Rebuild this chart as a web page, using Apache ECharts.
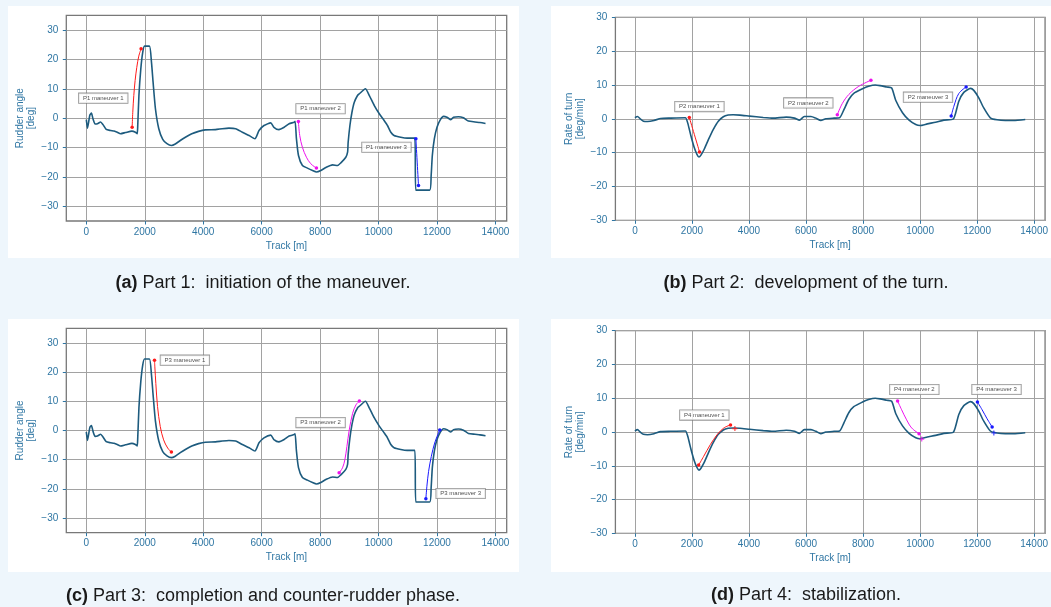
<!DOCTYPE html>
<html><head><meta charset="utf-8">
<script src="https://cdn.jsdelivr.net/npm/echarts@6/dist/echarts.min.js"></script>
<style>
html,body{margin:0;padding:0;background:#eef6fc;width:1051px;height:607px;overflow:hidden;}
.panel{position:absolute;background:#fff;}
#chart{position:absolute;left:0;top:0;width:1051px;height:607px;}
</style></head><body>
<div class="panel" style="left:8px;top:6px;width:511px;height:252px"></div>
<div class="panel" style="left:551px;top:6px;width:500px;height:252px"></div>
<div class="panel" style="left:8px;top:319px;width:511px;height:253px"></div>
<div class="panel" style="left:551px;top:319px;width:500px;height:253px"></div>
<div id="chart"></div>
<script>
// ---------- data ----------
const trackTicks = [0, 2000, 4000, 6000, 8000, 10000, 12000, 14000];
const angleTicks = [-30, -20, -10, 0, 10, 20, 30];

const rudderTrack = [0,40,120,175,230,300,380,490,570,680,830,950,1060,1170,1340,1560,1680,1740,1760,1800,1865,1930,1990,2160,2230,2285,2365,2480,2615,2760,2910,3045,3215,3390,3610,3840,4070,4420,4650,4880,5110,5340,5570,5770,5910,6080,6310,6420,6590,6770,6940,7110,7145,7190,7260,7395,7565,7740,7875,8025,8195,8425,8595,8710,8880,8940,8960,9020,9090,9170,9280,9345,9550,9685,9855,10025,10190,10305,10420,10530,10760,10980,11240,11275,11750,11800,11840,11910,12000,12115,12225,12340,12475,12565,12735,12905,13075,13300,13470,13660];
const rudderAngle = [-0.5,-3.4,1.0,1.7,-0.3,-2.0,-1.9,-1.3,-2.2,-3.8,-4.2,-4.4,-4.8,-5.3,-4.9,-4.4,-4.8,-5.3,-2.5,7.7,16.8,22.4,24.5,24.5,19.0,12.2,3.2,-3.6,-7.2,-8.7,-9.3,-8.8,-7.6,-6.5,-5.3,-4.5,-4.0,-3.9,-3.6,-3.4,-3.6,-4.8,-5.9,-7.0,-4.2,-2.5,-1.6,-3.1,-3.9,-3.1,-1.9,-1.4,-1.1,-7.0,-12.7,-16.1,-17.0,-17.8,-18.3,-17.8,-16.8,-15.9,-16.1,-15.2,-13.3,-11.6,-8.2,-2.5,2.0,5.4,7.7,8.3,10.0,7.7,4.3,1.5,-0.8,-2.5,-4.8,-5.9,-6.5,-6.8,-6.8,-24.5,-24.5,-19.5,-12.7,-7.0,-3.1,-0.5,0.6,0.3,-0.5,0.3,0.5,0.1,-1.0,-1.3,-1.5,-1.8];

const rotTrack = [0,90,185,300,440,670,900,1250,1770,1850,1965,2080,2175,2245,2310,2430,2580,2750,2925,3100,3270,3445,3680,4020,4500,4845,5305,5595,5770,5940,6175,6345,6520,6695,6985,7180,7330,7500,7675,7965,8195,8430,8600,8830,9005,9150,9385,9615,9850,10000,10255,10545,10835,11160,11245,11360,11535,11770,11885,12060,12235,12465,12700,12990,13280,13690];
const rateOfTurn = [0.3,0.7,0,-0.7,-0.8,-0.5,0.1,0.2,0.3,-1.2,-5.1,-8.5,-10.5,-11.3,-10.8,-9.0,-6.1,-3.1,-0.7,0.6,1.1,1.2,1.1,0.8,0.4,0.2,0.5,0.2,-0.4,0.7,0.7,0.2,-0.5,0.0,0.2,0.3,2.7,5.7,7.5,8.8,9.6,10.0,9.8,9.4,9.1,5.4,1.8,-0.4,-1.7,-2.0,-1.5,-1.0,-0.4,-0.1,1.6,5.2,7.8,9.0,8.4,6.2,3.2,0.3,-0.3,-0.5,-0.5,-0.2];

// maneuver arrows [track, value]
const p1m1 = [[1568,-3.1],[1590,2.0],[1625,7.7],[1670,12.8],[1727,17.3],[1795,21.1],[1874,23.6]];
const p1m2 = [[7257,-1.1],[7303,-5.9],[7394,-9.9],[7532,-13.3],[7680,-15.5],[7874,-17.0]];
const p1m3 = [[11277,-7.0],[11367,-22.9]];
const p2m1 = [[1907,0.4],[2266,-9.8]];
const p2m2 = [[7098,1.2],[7272,4.5],[7503,7.2],[7850,9.6],[8277,11.4]];
const p2m3 = [[11093,0.8],[11186,3.7],[11361,7.5],[11617,9.4]];
const p3m1 = [[2333,24.1],[2345,21.8],[2379,16.1],[2437,8.2],[2529,1.4],[2645,-3.2],[2784,-6.0],[2911,-7.4]];
const p3m2 = [[8651,-14.5],[8766,-12.8],[8847,-10.0],[8917,-5.5],[8997,0.2],[9113,5.9],[9228,8.8],[9344,10.1]];
const p3m3 = [[11619,-23.4],[11654,-19.1],[11712,-14.0],[11805,-8.9],[11920,-4.3],[12093,0.2]];
const p4m1 = [[2235,-9.8],[2412,-7.2],[2647,-3.7],[2882,-0.8],[3118,1.2],[3353,2.1]];
const p4m2 = [[9212,9.2],[9353,6.6],[9529,3.6],[9706,1.2],[9965,-0.5]];
const p4m3 = [[12012,8.9],[12176,6.6],[12353,3.9],[12529,1.5]];
const p4marks = [[3506,1.0],[10059,-2.1],[12588,-0.3]];

// annotation boxes: name, track, value
const p1Labels = [['P1 maneuver 1',580,6.8],['P1 maneuver 2',8015,3.2],['P1 maneuver 3',10270,-9.9]];
const p2Labels = [['P2 maneuver 1',2262,3.6],['P2 maneuver 2',6081,4.7],['P2 maneuver 3',10279,6.4]];
const p3Labels = [['P3 maneuver 1',3373,24.1],['P3 maneuver 2',8016,2.7],['P3 maneuver 3',12809,-21.6]];
const p4Labels = [['P4 maneuver 1',2435,5.0],['P4 maneuver 2',9800,12.6],['P4 maneuver 3',12682,12.6]];

const captionTags = ['(a)', '(b)', '(c)', '(d)'];
const captionTexts = ['Part 1:  initiation of the maneuver.', 'Part 2:  development of the turn.',
                      'Part 3:  completion and counter-rudder phase.', 'Part 4:  stabilization.'];

// ---------- styling / layout ----------
const FONT = 'Liberation Sans, Arial, sans-serif';
const BLUE = '#2f76a3';
const LINE = '#1d5b7e';
const manColors = ['#ff1a1a', '#ee10ee', '#1a1aff'];

const panels = [
  {grid:{left:66.3, top:15.3, width:440.4, height:205.7}, x:rudderTrack, y:rudderAngle, ymin:-35, ymax:35, split:7,
   name:'Rudder angle\n[deg]', mans:[p1m1,p1m2,p1m3], labels:p1Labels, marks:[], cap:[263,283]},
  {grid:{left:615.4, top:17.3, width:434.5, height:203}, x:rotTrack, y:rateOfTurn, ymin:-30, ymax:30, split:6,
   name:'Rate of turn\n[deg/min]', mans:[p2m1,p2m2,p2m3], labels:p2Labels, marks:[], cap:[806,283]},
  {grid:{left:66.3, top:328.3, width:440.4, height:204.4}, x:rudderTrack, y:rudderAngle, ymin:-35, ymax:35, split:7,
   name:'Rudder angle\n[deg]', mans:[p3m1,p3m2,p3m3], labels:p3Labels, marks:[], cap:[263,596]},
  {grid:{left:615.4, top:330.7, width:434.5, height:202.6}, x:rotTrack, y:rateOfTurn, ymin:-30, ymax:30, split:6,
   name:'Rate of turn\n[deg/min]', mans:[p4m1,p4m2,p4m3], labels:p4Labels, marks:p4marks, cap:[806,595]}
];

const minusFmt = v => String(v).replace('-', '\u2212');

const grids = [], xAxes = [], yAxes = [], series = [], graphics = [];
panels.forEach((p, i) => {
  grids.push(Object.assign({show:true, borderColor:'#787878', borderWidth:1.3, backgroundColor:'transparent'}, p.grid));
  xAxes.push({
    type:'value', gridIndex:i, min:-685, max:14385, splitNumber:7, position:'bottom',
    axisLine:{show:false, onZero:false},
    axisTick:{show:true, length:3.5, lineStyle:{color:BLUE, width:1}, customValues:trackTicks},
    axisLabel:{color:BLUE, fontSize:10, fontFamily:FONT, margin:6, customValues:trackTicks,
               formatter:minusFmt},
    splitLine:{show:true, lineStyle:{color:'#a2a2a2', width:1}},
    name:'Track [m]', nameLocation:'middle', nameGap:20,
    nameTextStyle:{color:BLUE, fontSize:10, fontFamily:FONT}
  });
  yAxes.push({
    type:'value', gridIndex:i, min:p.ymin, max:p.ymax, splitNumber:p.split, position:'left',
    axisLine:{show:false, onZero:false},
    axisTick:{show:true, length:3.5, lineStyle:{color:BLUE, width:1}, customValues:angleTicks},
    axisLabel:{color:BLUE, fontSize:10, fontFamily:FONT, margin:8, customValues:angleTicks,
               formatter:minusFmt},
    splitLine:{show:true, lineStyle:{color:'#a2a2a2', width:1}},
    name:p.name, nameLocation:'middle', nameGap:30, nameRotate:90,
    nameTextStyle:{color:BLUE, fontSize:10, lineHeight:11, fontFamily:FONT, align:'center'}
  });
  series.push({
    type:'line', xAxisIndex:i, yAxisIndex:i, symbol:'none', smooth:0.2, z:3,
    lineStyle:{color:LINE, width:1.6},
    data:p.x.map((t, k) => [t, p.y[k]])
  });
  p.mans.forEach((m, j) => {
    series.push({
      type:'line', xAxisIndex:i, yAxisIndex:i, smooth:0.35, z:4, showSymbol:true,
      symbol:'circle', symbolSize:3.5,
      lineStyle:{color:manColors[j], width:1}, itemStyle:{color:manColors[j]},
      data:m.map((pt, k) => (k === 0 || k === m.length - 1) ? {value:pt} : {value:pt, symbol:'none'})
    });
  });
  if (p.marks.length) {
    series.push({
      type:'scatter', xAxisIndex:i, yAxisIndex:i, symbol:'path://M5,0L5,10M0,5L10,5', symbolSize:5, z:4,
      data:p.marks.map((pt, k) => ({value:pt, itemStyle:{color:'transparent', borderColor:manColors[k], borderWidth:1.2}}))
    });
  }
  series.push({
    type:'scatter', xAxisIndex:i, yAxisIndex:i, symbolSize:0, z:6,
    data:p.labels.map(l => ({value:[l[1], l[2]], name:l[0]})),
    label:{show:true, position:'inside', formatter:'{b}', fontSize:6, fontFamily:FONT, color:'#222',
           backgroundColor:'#fff', borderColor:'#7a7a7a', borderWidth:0.8, padding:[2,4,1.5,4]}
  });
  graphics.push({
    type:'text', x:p.cap[0], y:p.cap[1], z:10,
    style:{text:'{b|' + captionTags[i] + '} ' + captionTexts[i], fontSize:18, fontFamily:FONT,
           fill:'#1a1a1a', align:'center', verticalAlign:'middle',
           rich:{b:{fontWeight:'bold', fontSize:18, fontFamily:FONT, fill:'#1a1a1a'}}}
  });
});

const chart = echarts.init(document.getElementById('chart'), null, {renderer:'canvas'});
chart.setOption({
  backgroundColor:'transparent', animation:false,
  grid:grids, xAxis:xAxes, yAxis:yAxes, series:series, graphic:graphics
});
</script>
</body></html>
